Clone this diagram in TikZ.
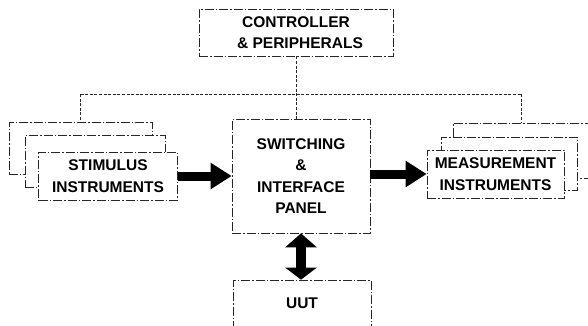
\documentclass[tikz,border=0pt]{standalone}
\usepackage{fontspec}
\setmainfont{Liberation Sans}
\usetikzlibrary{arrows.meta}
\tikzset{
  blk/.style={draw=black!85, line width=0.7bp, dash pattern=on 9bp off 2bp on 1.5bp off 2bp,
    fill=white, inner sep=0pt, align=center,
    font=\fontsize{15.5bp}{21.5bp}\selectfont\bfseries},
  link/.style={draw=black!85, line width=0.7bp, dash pattern=on 3bp off 1.6bp},
  fat/.style={line width=9bp, -{Triangle[length=21bp,width=25bp]}},
  dfat/.style={line width=10bp, {Triangle[length=14bp,width=31bp]}-{Triangle[length=12bp,width=31bp]}}
}
\begin{document}
\begin{tikzpicture}[x=1bp,y=-1bp]
\useasboundingbox (0,0) rectangle (588,325);
\clip (0,0) rectangle (588,325);
% controller
\node[blk, minimum width=194bp, minimum height=47bp] (ctrl) at (296,32.5) {CONTROLLER\\\hspace*{8bp}\& PERIPHERALS};
% left stack
\node[blk, minimum width=143bp, minimum height=52bp] (sback) at (80.5,148) {};
\node[blk, minimum width=140bp, minimum height=52bp] (smid) at (95,161) {};
\node[blk, minimum width=139bp, minimum height=48bp] (stim) at (108,176) {STIMULUS\\INSTRUMENTS};
% right stack
\node[blk, minimum width=137bp, minimum height=55bp] (mback) at (521.5,150.5) {};
\node[blk, minimum width=136bp, minimum height=53bp] (mmid) at (509,163.5) {};
\node[blk, minimum width=137bp, minimum height=48bp] (meas) at (495.5,174) {MEASUREMENT\\INSTRUMENTS};
% switching
\node[blk, minimum width=138bp, minimum height=114bp] (sw) at (301,176) {SWITCHING\\\&\\INTERFACE\\PANEL};
% UUT
\node[blk, minimum width=138bp, minimum height=60bp] (uut) at (302,310) {};
\node[font=\fontsize{15.5bp}{18bp}\selectfont\bfseries] (uutlabel) at (302,303) {UUT};
% connectors
\coordinate (jl) at (sback.north |- 0,94);
\coordinate (jr) at (mback.north |- 0,94);
\draw[link] (ctrl.south) -- (ctrl.south |- sw.north);
\draw[link] (jl) -- (jr);
\draw[link] (jl) -- (sback.north);
\draw[link] (jr) -- (mback.north);
% arrows
\draw[fat] (stim.east) -- (stim.east -| sw.west);
\draw[fat] ([yshift=2bp]sw.east) -- ([yshift=2bp]sw.east -| meas.west);
\draw[dfat] (sw.south) -- (sw.south |- uut.north);
\end{tikzpicture}
\end{document}
